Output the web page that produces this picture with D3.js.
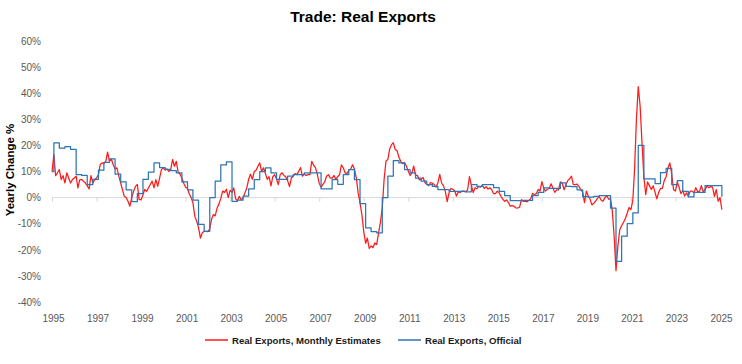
<!DOCTYPE html>
<html><head><meta charset="utf-8">
<script src="https://cdn.jsdelivr.net/npm/d3@7"></script>
<style>
body{margin:0;background:#fff}
svg{display:block}
text{font-family:'Liberation Sans Narrow','Arial Narrow',sans-serif}
</style>
</head><body><svg id="c" width="742" height="364"></svg>
<script>
const chartTitle = "Trade: Real Exports";
const yAxisTitle = "Yearly Change %";
const seriesNames = ["Real Exports, Monthly Estimates", "Real Exports, Official"];
const seriesColors = ["#ff1a1a", "#2e75b6"];

// Monthly estimates, YoY %, Jan 1995 onward
const monthlyStart = [1995, 0];
const monthlyEstimates = [
 10,16.5,8.4,9.5,10.7,6.9,8.4,5.6,9.5,7.5,
 5.6,6.9,7.5,8.2,3.7,6.9,6.9,6.3,5.6,4.5,
 3.3,8.4,5.6,6.9,7.5,8.8,12.6,13.3,13.0,13.9,
 17.4,13.9,14.8,12.6,11.0,11.4,8.2,5.6,3.1,0.5,
 0.0,-1.4,-3.3,0.0,2.4,4.3,5.0,-0.8,-0.8,1.0,
 3.1,2.4,3.7,5.0,6.3,3.7,6.9,4.3,7.5,10.7,
 11.4,10.5,11.0,10.0,10.7,14.6,12.0,13.9,9.7,9.0,
 7.5,5.5,4.0,3.5,1.5,0.0,-2.0,-7.2,-9.0,-11.5,
 -15.5,-13.5,-12.9,-12.9,-13.0,-12.0,-8.4,-6.5,-7.0,-4.0,
 -2.5,-0.3,2.5,2.0,3.2,0.0,2.8,2.0,3.7,-0.5,
 -1.2,0.5,-0.8,-0.2,1.8,3.7,7.0,9.0,7.0,10.0,
 10.5,12.0,13.3,10.0,11.4,9.3,7.0,8.0,4.5,8.0,
 8.8,7.0,5.0,8.8,9.5,8.5,8.0,6.5,4.2,7.5,
 8.2,9.2,8.8,10.2,11.5,8.2,9.0,8.5,8.8,8.8,
 13.9,12.4,11.5,9.0,5.5,4.0,5.0,6.0,8.2,8.8,
 7.5,7.5,8.5,7.0,8.0,8.8,12.5,11.4,9.5,9.2,
 10.5,11.0,12.6,11.0,7.5,1.8,-2.0,-6.5,-13.0,-17.5,
 -15.5,-19.5,-18.5,-19.2,-17.4,-18.0,-13.5,-9.5,-4.0,7.0,
 14.0,14.6,18.5,20.3,21.0,18.4,18.0,15.5,13.8,13.0,
 13.4,12.1,10.2,8.5,9.5,12.1,8.5,8.5,6.8,7.0,
 7.7,5.8,5.1,4.6,5.8,5.5,5.0,4.0,5.6,8.9,
 5.6,4.5,2.3,-1.5,1.9,3.5,3.2,2.6,0.6,2.2,
 2.0,2.5,2.5,2.2,3.0,8.0,4.8,1.9,3.8,3.4,
 4.3,4.0,4.8,3.5,4.2,3.3,3.8,3.0,1.5,1.5,
 2.5,1.8,0.5,-0.6,-1.4,-0.9,-1.8,-3.3,-3.1,-3.3,
 -3.9,-4.0,-3.7,-0.8,-1.4,-1.4,-1.6,-1.1,-0.5,1.6,
 1.2,1.5,3.1,2.5,6.1,3.6,2.5,3.2,3.5,5.3,
 3.7,2.0,3.0,3.0,6.0,5.5,3.0,5.0,6.5,7.2,
 8.2,5.0,5.0,5.2,4.3,3.0,2.2,-1.9,2.5,0.5,
 -0.5,-2.8,-2.2,-1.4,-0.3,0.3,-1.0,-1.4,0.0,0.7,
 -0.6,-0.5,-5.0,-15.0,-28.0,-18.6,-12.3,-10.8,-9.5,-8.0,
 -6.0,-3.8,-4.6,-1.0,10.7,29.9,42.5,35.0,21.0,8.0,
 1.1,6.0,4.5,3.1,4.5,2.0,-0.5,2.0,3.5,3.5,
 6.5,8.0,11.4,13.3,9.0,3.0,2.5,6.0,4.0,1.5,
 2.8,0.6,1.8,0.5,2.5,2.5,1.8,3.8,2.2,2.5,
 4.6,2.2,3.0,4.5,3.8,4.2,4.0,0.5,3.1,-1.4,
 0.0,-4.6
];

// Official quarterly, YoY %, from 1994Q4 to 2025Q1
const officialFirstQuarter = [1994, 4];
const officialQuarterly = [
 10,
 21,19,19.5,18.5,
 8.8,8.5,5.0,7.0,
 10.5,13.5,14.8,9.0,
 6.0,3.0,-1.5,1.5,
 7.0,9.8,13.3,11.5,
 10.8,10.3,9.5,6.0,
 3.0,-1.0,-10.3,-12.9,
 0.0,6.3,12.5,13.7,
 -1.4,-1.0,0.6,3.3,
 6.9,10.0,11.4,9.5,
 7.0,7.0,8.2,8.8,
 8.8,9.5,9.5,9.5,
 3.3,3.3,6.9,5.1,
 8.8,10.7,6.9,-2.3,
 -11.6,-13.0,-13.5,0.0,
 8.2,14.2,13.3,10.7,
 9.5,7.5,6.3,5.0,
 4.3,3.1,3.1,2.4,
 2.4,2.4,2.2,5.0,
 4.3,5.0,5.0,3.8,
 2.4,0.8,-1.2,-1.2,
 -1.1,-1.1,0.8,2.0,
 3.7,3.5,3.5,5.6,
 4.3,4.2,3.0,0.4,
 0.2,0.5,0.8,0.8,
 -4.0,-24.4,-14.8,-10.0,
 -5.9,20.0,7.2,7.2,
 5.4,9.6,11.2,5.0,
 6.5,2.4,0.3,2.0,
 2.0,4.6,4.6,4.6,
 0.3
];

const yTickValues = [-40,-30,-20,-10,0,10,20,30,40,50,60];
const xTickYears = [1995,1997,1999,2001,2003,2005,2007,2009,2011,2013,2015,2017,2019,2021,2023,2025];

const svg = d3.select("#c");
const start = new Date(1995, 0, 1);
const x = d3.scaleTime().domain([start, new Date(2025, 0, 1)]).range([52, 720]);
const y = d3.scaleLinear().domain([-40, 60]).range([302, 41]);

const redData = monthlyEstimates.map((v, i) => ({d: new Date(monthlyStart[0], monthlyStart[1] + i, 1), v}));
const blueData = officialQuarterly.map((v, i) => {
  const q0 = (officialFirstQuarter[1] - 1) + i;
  const month = q0 * 3 + 1;
  let d = new Date(officialFirstQuarter[0], month, 1);
  if (d < start) d = start;
  return {d, v};
});

// title
svg.append("text").attr("x", 363).attr("y", 22).attr("text-anchor", "middle")
  .attr("font-size", 15.5).attr("font-weight", "bold").attr("fill", "#000").text(chartTitle);

// y title
svg.append("text").attr("transform", "translate(14,170) rotate(-90)").attr("text-anchor", "middle")
  .attr("font-size", 11.5).attr("font-weight", "bold").attr("fill", "#000").text(yAxisTitle);

// y axis labels
const yAxis = d3.axisLeft(y).tickValues(yTickValues).tickSize(0).tickPadding(0).tickFormat(d => d + "%");
const gy = svg.append("g").attr("transform", "translate(41,0)").call(yAxis);
gy.select(".domain").remove();
gy.selectAll("text").attr("font-size", 10).attr("fill", "#595959").style("font-family", "'Liberation Sans Narrow','Arial Narrow',sans-serif");

// zero axis with ticks
const tickDates = xTickYears.map(yr => new Date(yr, 0, 1));
const gx0 = svg.append("g").attr("transform", `translate(0,${y(0)})`)
  .call(d3.axisBottom(x).tickValues(tickDates).tickSize(4).tickFormat(""));
gx0.select(".domain").attr("stroke", "#d9d9d9").attr("d", `M${x.range()[0]},0H${x.range()[1] + 2}`);
gx0.selectAll(".tick line").attr("stroke", "#d9d9d9");

// bottom labels
const gx = svg.append("g").attr("transform", "translate(1,315)")
  .call(d3.axisBottom(x).tickValues(tickDates).tickSize(0).tickPadding(0).tickFormat(d3.timeFormat("%Y")));
gx.select(".domain").remove();
gx.selectAll("text").attr("font-size", 10).attr("fill", "#595959").style("font-family", "'Liberation Sans Narrow','Arial Narrow',sans-serif");

// lines
const redLine = d3.line().x(d => x(d.d)).y(d => y(d.v));
svg.append("path").datum(redData).attr("d", redLine).attr("fill", "none")
  .attr("stroke", seriesColors[0]).attr("stroke-width", 1.25).attr("stroke-linejoin", "round");
const blueLine = d3.line().x(d => x(d.d)).y(d => y(d.v)).curve(d3.curveStepAfter);
svg.append("path").datum(blueData).attr("d", blueLine).attr("fill", "none")
  .attr("stroke", seriesColors[1]).attr("stroke-width", 1.25).attr("stroke-linejoin", "round");

// legend
const legend = [{x: 205, name: seriesNames[0], c: seriesColors[0]}, {x: 398, name: seriesNames[1], c: seriesColors[1]}];
legend.forEach(l => {
  svg.append("line").attr("x1", l.x).attr("x2", l.x + 23).attr("y1", 340).attr("y2", 340)
    .attr("stroke", l.c).attr("stroke-width", 1.5);
  svg.append("text").attr("x", l.x + 27).attr("y", 343.5).attr("font-size", 9.6).attr("font-weight", "bold")
    .attr("fill", "#1a1a1a").text(l.name);
});
</script></body></html>
